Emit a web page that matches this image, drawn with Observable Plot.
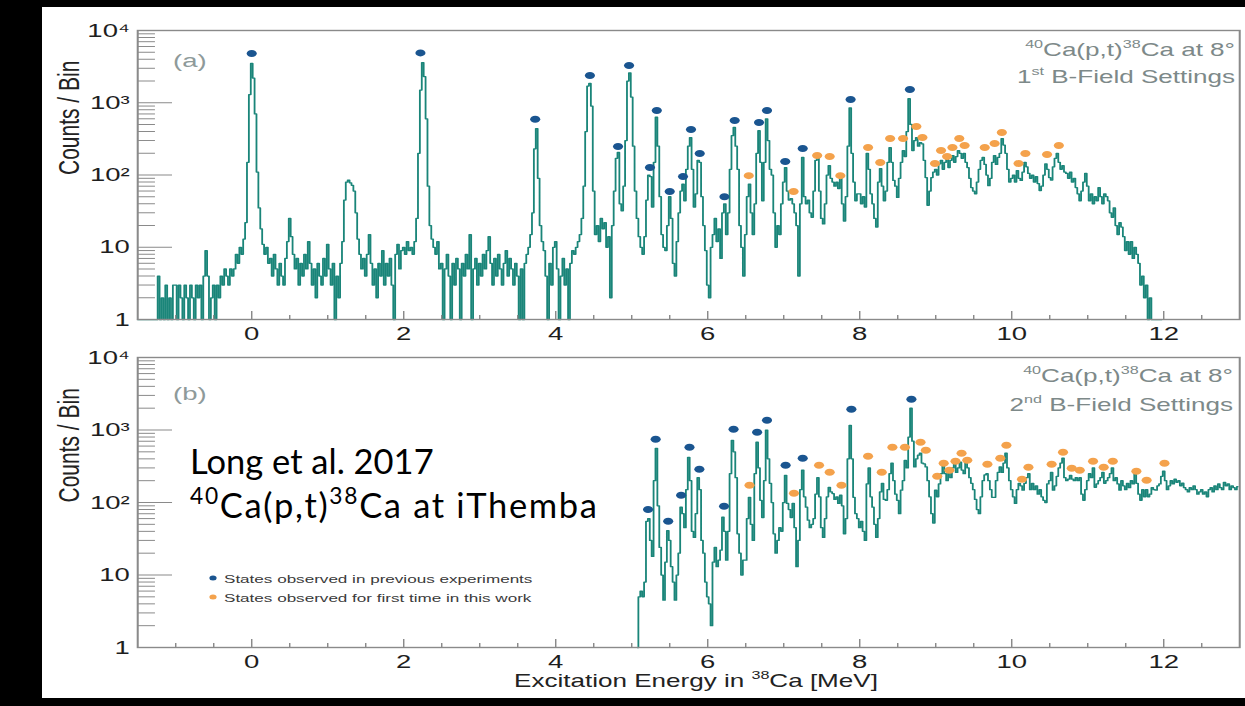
<!DOCTYPE html>
<html>
<head>
<meta charset="utf-8">
<script src="https://cdn.jsdelivr.net/npm/d3@7"></script>
<script src="https://cdn.jsdelivr.net/npm/@observablehq/plot@0.6"></script>
<style>
  html, body { margin: 0; padding: 0; background: #000; }
  #fig { position: relative; width: 1245px; height: 706px; background: #000; overflow: hidden; }
  #paper { position: absolute; left: 42px; top: 7px; width: 1203px; height: 691px; background: #fff; }
  .panel { position: absolute; left: 0; }
  .panel svg { display: block; }
  #note { position: absolute; left: 0; top: 0; }
</style>
</head>
<body>
<div id="fig">
  <div id="paper"></div>
  <div id="panelA" class="panel" style="top:0px"></div>
  <div id="panelB" class="panel" style="top:340px"></div>
  <svg id="note" width="1245" height="706"></svg>
</div>
<script>
// Histogram bins: 0.025 MeV wide, ten bins per row (0.25 MeV per row).
const BIN = 0.025;
const ROW = 0.25;

// (a) 1st B-field setting, rows start at -1.5 MeV
const startA = -1.5;
const countsA = [
  [1,1,1,1,1,1,1,1,1,1],
  [1,4,1,2,1,3,1,2,1,3],
  [3,1,3,2,1,3,2,1,3,2],
  [1,3,2,3,1,4,9,4,1,2],
  [3,1,3,2,4,3,5,4,3,5],
  [4,5,8,6,10,8,13,22,150,1300],
  [3500,2200,700,110,35,18,11,8,10,6],
  [7,4,8,5,3,6,4,3,7,12],
  [25,14,8,5,7,3,6,4,8,5],
  [12,6,3,5,2,6,4,3,7,4],
  [11,5,3,6,1,4,2,6,12,45],
  [80,85,78,72,60,30,13,8,5,7],
  [4,8,15,6,3,5,2,6,4,9],
  [3,6,4,7,3,1,8,11,5,9],
  [10,8,12,9,10,8,12,25,200,1500],
  [3600,2300,600,70,20,13,10,8,12,5],
  [6,1,5,8,4,1,6,3,7,5],
  [1,6,4,8,5,15,1,5,7,3],
  [6,4,8,5,9,14,6,3,7,4],
  [8,5,3,6,9,4,7,5,3,6],
  [4,1,5,1,6,8,10,15,30,230],
  [440,90,20,12,9,4,1,6,3,10],
  [12,5,1,4,7,3,5,1,6,9],
  [8,10,12,15,25,70,400,1700,1850,900],
  [60,15,20,12,25,18,22,10,14,2],
  [20,60,170,205,40,32,70,300,2000,2600],
  [1200,250,60,25,14,10,8,14,45,100],
  [95,36,150,630,250,50,15,10,9,20],
  [50,25,6,4,12,30,60,75,44,120],
  [250,330,120,36,55,160,150,50,20,9],
  [3,2,10,15,25,12,18,7,30,40],
  [15,30,120,350,455,250,120,20,10,4],
  [15,50,75,30,15,40,200,410,150,44],
  [150,600,300,120,100,30,10,20,15,40],
  [80,127,60,45,47,40,30,20,4,40],
  [175,50,40,45,30,26,60,160,180,60],
  [25,21,40,100,135,90,80,70,80,65],
  [93,40,23,50,250,850,200,80,44,55],
  [55,40,50,36,200,120,55,40,25,19],
  [80,123,70,44,60,150,240,150,84,70],
  [49,90,150,218,180,400,1140,500,218,300],
  [330,250,280,270,160,92,38,60,92,110],
  [120,100,143,160,120,150,175,127,160,186],
  [150,180,218,200,170,200,150,127,90,67],
  [60,55,80,120,160,175,140,100,71,90],
  [150,186,140,175,200,320,260,200,120,80],
  [90,100,80,115,90,84,110,150,130,105],
  [90,100,80,95,76,61,70,100,143,120],
  [92,85,130,170,200,150,120,135,110,105],
  [90,110,80,90,67,55,44,60,80,105],
  [70,44,55,40,50,44,67,50,40,55],
  [50,44,30,26,35,20,15,22,19,14],
  [9,12,8,12,7,10,8,6,3,4],
  [2,3,1,2,1,1,1,1,1,1]
];

// (b) 2nd B-field setting, rows start at 5.0 MeV (no acceptance below ~5.1 MeV)
const startB = 5.0;
const countsB = [
  [null,null,null,1,5,6,5,8,55,60],
  [30,18,200,560,90,24,10,4.5,15,41],
  [30,13,8,4.5,10,20,86,70,45,150],
  [420,200,40,33,70,220,150,30,20,8],
  [5,4,2,15,24,13,16,22,63,40],
  [16,40,250,720,500,220,37,20,10,16],
  [16,60,118,50,30,250,680,300,107,62],
  [200,1000,400,184,100,37,20,30,45,40],
  [100,237,97,80,62,97,45,13,30,150],
  [280,120,86,57,45,50,60,130,220,120],
  [45,33,60,120,162,140,133,110,120,97],
  [126,90,37,60,400,1160,400,118,70,60],
  [45,55,40,30,180,300,120,86,50,33],
  [60,140,184,110,107,150,250,350,200,130],
  [107,70,148,200,380,300,800,2000,700,310],
  [400,450,480,350,340,310,200,120,70,52],
  [148,120,180,250,370,250,200,280,220,300],
  [380,260,300,360,280,250,380,300,220,184],
  [150,110,80,70,120,200,240,250,200,150],
  [118,118,200,260,310,260,350,480,300,200],
  [150,120,97,150,184,170,148,184,220,250],
  [150,184,150,170,130,150,120,107,100,180],
  [200,260,148,170,230,300,350,410,220,200],
  [210,237,210,200,220,200,220,130,107,150],
  [200,250,220,300,162,180,200,220,260,184],
  [200,220,250,300,200,220,180,148,200,170],
  [150,184,160,200,180,250,184,130,107,150],
  [120,150,120,130,160,150,148,170,180,230],
  [270,200,150,170,200,180,210,190,200,170],
  [185,160,150,140,160,150,170,150,130,140],
  [150,130,140,120,150,160,140,170,150,180],
  [160,150,190,170,180,150,170,160,150,165]
];

// Level markers: [excitation energy (MeV), marker height (counts)]
const knownA = [[0.00,4800],[2.22,4900],[3.73,590],[4.45,2380],[4.82,248],[4.965,3280],[5.24,127],[5.33,781],[5.50,59],[5.675,95],[5.78,426],[5.895,199],[6.22,50],[6.355,568],[6.675,533],[6.78,781],[7.02,154],[7.25,233],[7.88,1110],[8.66,1525]];
const freshA = [[6.54,98],[7.13,59],[7.44,186],[7.605,180],[7.745,98],[8.11,240],[8.27,149],[8.40,320],[8.57,320],[8.745,469],[8.825,330],[8.99,144],[9.07,218],[9.15,180],[9.22,240],[9.31,320],[9.38,256],[9.645,240],[9.775,273],[9.87,387],[10.09,144],[10.18,199],[10.465,192],[10.62,256]];
const knownB = [[5.215,80],[5.315,746],[5.48,55],[5.65,126],[5.76,578],[5.89,287],[6.215,89],[6.34,1026],[6.65,933],[6.78,1365],[7.025,326],[7.25,408],[7.89,1937],[8.68,2663]];
const freshB = [[6.55,173],[7.135,134],[7.465,326],[7.605,261],[7.76,173],[8.11,435],[8.29,261],[8.43,578],[8.595,578],[8.80,678],[8.87,526],[9.02,230],[9.105,348],[9.18,278],[9.26,371],[9.34,478],[9.415,383],[9.68,337],[9.85,408],[9.93,617],[10.135,209],[10.22,306],[10.525,337],[10.675,494],[10.79,297],[10.895,278],[11.07,371],[11.21,306],[11.33,371],[11.64,270],[11.775,203],[12.01,348]];

// Axis ticks
const majorX = [0, 2, 4, 6, 8, 10, 12];
const minorX = [-1, -0.5, 0.5, 1, 1.5, 2.5, 3, 3.5, 4.5, 5, 5.5, 6.5, 7, 7.5, 8.5, 9, 9.5, 10.5, 11, 11.5, 12.5];
const decades = [1, 10, 100, 1000, 10000];
const minorY = [2,3,4,5,6,7,8,9, 20,30,40,50,60,70,80,90, 200,300,400,500,600,700,800,900, 2000,3000,4000,5000,6000,7000,8000,9000];
const decadeText = {1: "1", 10: "10", 100: "10²", 1000: "10³", 10000: "10⁴"};

const TEAL = "#1a8579";
const BLUE = "#1a5590";
const ORANGE = "#f4a24c";
const GRAY = "#8a8a8a";
const FONT = "'Liberation Sans', Arial, Helvetica, sans-serif";

// The figure is laid out on an 860-unit-wide canvas and widened to the page width.
const CANVAS = 860;
const STRETCH = 1245 / CANVAS;

function spectrum(rows, start) {
  return rows.flatMap((row, r) =>
    row.map((n, j) => ({E: +(start + r * ROW + j * BIN).toFixed(3), n})));
}

function panel({spec, known, fresh, height, marginTop, marginBottom}) {
  const marginLeft = 137 / STRETCH;
  const marginRight = 6 / STRETCH;
  const frameW = CANVAS - marginLeft - marginRight;
  const frameH = height - marginTop - marginBottom;
  const svg = Plot.plot({
    width: CANVAS, height, marginTop, marginBottom, marginLeft, marginRight,
    x: {domain: [-1.5, 13]},
    y: {type: "log", domain: [1, 1e4]},
    style: {fontFamily: FONT, fontSize: "19px", color: "#1e1e1e", background: "transparent", overflow: "visible"},
    marks: [
      Plot.line(spec, {x: "E", y: "n", curve: "step", stroke: TEAL, strokeWidth: 1.25}),
      Plot.dot(known, {x: d => d[0], y: d => d[1], r: 3.5, fill: BLUE, stroke: null}),
      Plot.dot(fresh, {x: d => d[0], y: d => d[1], r: 3.5, fill: ORANGE, stroke: null}),
      Plot.tickY(minorY, {y: d => d, stroke: GRAY, insetRight: frameW - 12.4}),
      Plot.tickY(decades, {y: d => d, stroke: GRAY, insetRight: frameW - 24.2}),
      Plot.tickX(minorX, {x: d => d, stroke: GRAY, insetTop: frameH - 4}),
      Plot.tickX(majorX, {x: d => d, stroke: GRAY, insetTop: frameH - 8}),
      Plot.frame({stroke: GRAY, strokeWidth: 1.4}),
      Plot.axisX(majorX, {tickSize: 0, tickPadding: 7, fontSize: 19, tickFormat: d => String(d), label: null}),
      Plot.axisY(decades, {tickSize: 0, tickPadding: 5.5, fontSize: 19, tickFormat: d => decadeText[d], label: null}),
      Plot.text(["Counts / Bin"], {text: d => d, frameAnchor: "left", rotate: -90, dx: -47.6, fontSize: 21, fill: "#222"})
    ]
  });
  svg.setAttribute("width", 1245);
  svg.setAttribute("height", height);
  svg.setAttribute("preserveAspectRatio", "none");
  svg.style.width = "1245px";
  svg.style.height = height + "px";
  svg.style.maxWidth = "none";
  return svg;
}

// Text with superscript runs: parts = [[string, isSuperscript], ...]
function addText(svg, {x, y, size, fill, anchor = "start", family = FONT, supScale = 0.62, parts}) {
  const t = d3.select(svg).append("text")
    .attr("x", x).attr("y", y)
    .attr("font-size", size).attr("fill", fill)
    .attr("text-anchor", anchor).attr("font-family", family);
  let up = false;
  for (const [s, sup] of parts) {
    const ts = t.append("tspan").text(s);
    if (sup) {
      ts.attr("font-size", size * supScale);
      if (!up) { ts.attr("dy", -size * 0.42); up = true; }
    } else if (up) {
      ts.attr("dy", size * 0.42); up = false;
    }
  }
  return t;
}

const svgA = panel({spec: spectrum(countsA, startA), known: knownA, fresh: freshA, height: 340, marginTop: 30, marginBottom: 21});
const svgB = panel({spec: spectrum(countsB, startB), known: knownB, fresh: freshB, height: 366, marginTop: 17, marginBottom: 59});

const reaction = [["40", 1], ["Ca(p,t)", 0], ["38", 1], ["Ca at 8°", 0]];

addText(svgA, {x: 173 / STRETCH, y: 67, size: 19, fill: "#8e9a9a", parts: [["(a)", 0]]});
addText(svgA, {x: 1235 / STRETCH, y: 56, size: 18, fill: "#7d8989", anchor: "end", parts: reaction});
addText(svgA, {x: 1235 / STRETCH, y: 83, size: 18, fill: "#7d8989", anchor: "end", parts: [["1", 0], ["st", 1], [" B-Field Settings", 0]]});

addText(svgB, {x: 173 / STRETCH, y: 60, size: 19, fill: "#8e9a9a", parts: [["(b)", 0]]});
addText(svgB, {x: 1233 / STRETCH, y: 42, size: 18, fill: "#7d8989", anchor: "end", parts: reaction});
addText(svgB, {x: 1233 / STRETCH, y: 71, size: 18, fill: "#7d8989", anchor: "end", parts: [["2", 0], ["nd", 1], [" B-Field Settings", 0]]});

// Legend
const legend = [
  {color: BLUE, label: "States observed in previous experiments", y: 238},
  {color: ORANGE, label: "States observed for first time in this work", y: 257}
];
for (const item of legend) {
  d3.select(svgB).append("circle")
    .attr("cx", 213 / STRETCH).attr("cy", item.y).attr("r", 2.5).attr("fill", item.color);
  addText(svgB, {x: 224 / STRETCH, y: item.y + 5, size: 11.8, fill: "#3a3a3a", parts: [[item.label, 0]]});
}

addText(svgB, {x: 696 / STRETCH, y: 347, size: 18, fill: "#222", anchor: "middle",
  parts: [["Excitation Energy in ", 0], ["38", 1], ["Ca [MeV]", 0]]});

document.getElementById("panelA").appendChild(svgA);
document.getElementById("panelB").appendChild(svgB);

// Source note
const note = document.getElementById("note");
const NOTE_FONT = "Lato, 'Open Sans', sans-serif";
addText(note, {x: 190, y: 474, size: 34.5, fill: "#000", family: NOTE_FONT, parts: [["Long et al. 2017", 0]]});
addText(note, {x: 190, y: 518, size: 34.5, fill: "#000", family: NOTE_FONT, supScale: 0.66,
  parts: [["40", 1], ["Ca(p,t)", 0], ["38", 1], ["Ca at iThemba", 0]]})
  .attr("textLength", 407).attr("lengthAdjust", "spacing");
</script>
</body>
</html>
